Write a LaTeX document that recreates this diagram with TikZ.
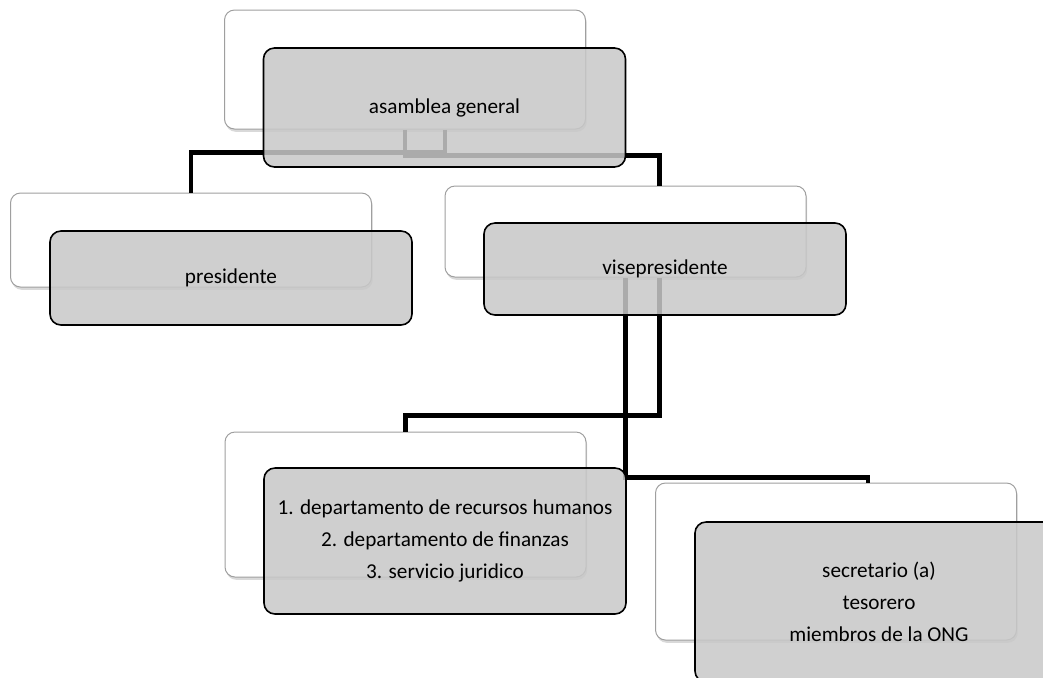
\documentclass[tikz,border=0pt]{standalone}
\usepackage{fontspec}
\setmainfont{Carlito}
\usetikzlibrary{calc,shadows}
\definecolor{boxgray}{RGB}{200,200,200}
\newcommand\orgfont{\fontsize{10.6}{16}\selectfont}
\tikzset{
	backbox/.style={draw=gray!75, fill=white, line width=0.5pt, rounded corners=5pt,
		minimum width=180.5pt, drop shadow={opacity=0.3, shadow xshift=0.6pt, shadow yshift=-1.4pt}},
	frontbox/.style={draw=black, line width=0.8pt, rounded corners=5.5pt, fill=boxgray,
		fill opacity=0.86, text opacity=1, minimum width=181pt, align=center, font=\orgfont},
	conn/.style={line width=2.3pt}
}

\begin{document}
\begin{tikzpicture}[x=0.5pt,y=-0.5pt]
	\useasboundingbox (0,0) rectangle (1043,677);
	% back boxes
	\node[backbox, minimum height=59.5pt] (asambleaBack) at (405,69.5) {};
	\node[backbox, minimum height=47pt] (presBack) at (191,240) {};
	\node[backbox, minimum height=45.5pt] (viseBack) at (625.5,231.5) {};
	\node[backbox, minimum height=72.5pt] (deptBack) at (405.5,504.5) {};
	\node[backbox, minimum height=78.5pt] (secBack) at (836,561.5) {};
	% connectors
	\draw[conn] (asambleaBack.south) -- ++(0,26) -| ($(viseBack.north)+(34,0)$);
	\draw[conn] ($(asambleaBack.south)+(40,0)$) -- ++(0,23) -| (presBack.north);
	\draw[conn] (viseBack.south) -- ++(0,200) -| ($(secBack.north)+(32,0)$);
	\draw[conn] ($(viseBack.south)+(34,0)$) -- ++(0,138) -| (deptBack.north);
	% front boxes
	\node[frontbox, minimum height=59.5pt] (asamblea) at (444.5,107.5) {asamblea general};
	\node[frontbox, minimum height=47pt] (pres) at (231,278) {presidente};
	\node[frontbox, minimum height=46pt] (vise) at (665,269) {visepresidente};
	\node[frontbox, minimum height=73pt] (dept) at (445,541) {1. departamento de recursos humanos\\2. departamento de finanzas\\3. servicio juridico};
	\node[frontbox, minimum height=80pt, minimum width=184pt] (sec) at (879,602) {secretario (a)\\tesorero\\miembros de la ONG};
\end{tikzpicture}
\end{document}
